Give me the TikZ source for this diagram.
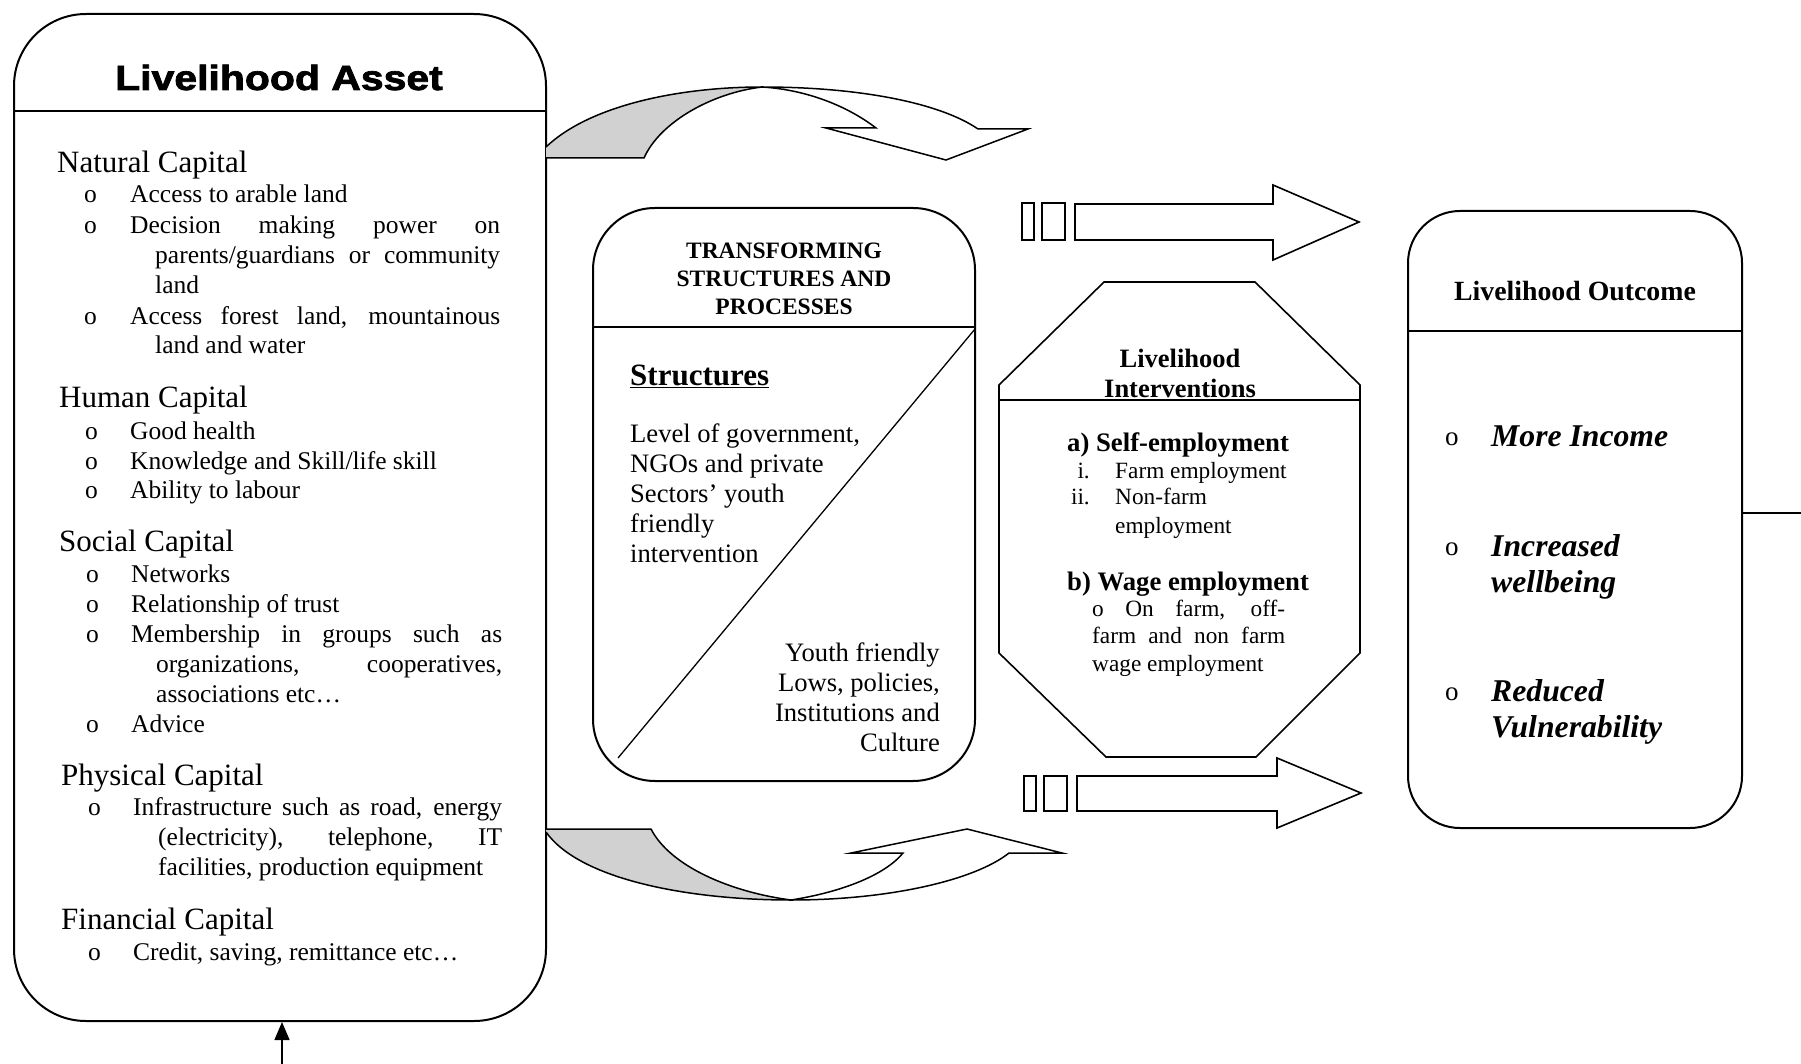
\documentclass[tikz,border=0pt]{standalone}
\usepackage{fontspec}
\setmainfont{Liberation Serif}
\newfontfamily\headsans[FakeBold=2]{Liberation Sans Bold}
\usepackage{graphicx}
\usetikzlibrary{arrows.meta}
\newcommand{\jl}[2]{\makebox[#1][s]{#2}}
\tikzset{
  rbox/.style={draw, line width=2pt, rounded corners=#1, inner sep=0pt},
  boxline/.style={line width=1.6pt},
  ribbon/.style={draw, line width=1.5pt, line join=miter},
  grayfill/.style={fill=black!18},
  bodytxt/.style={inner sep=0pt, anchor=base west, font=\fontsize{25.5}{30}\selectfont},
  caphd/.style={inner sep=0pt, anchor=base west, font=\fontsize{31}{36}\selectfont},
  tsph/.style={inner sep=0pt, anchor=base, font=\bfseries\fontsize{23.5}{28}\selectfont},
  tspt/.style={inner sep=0pt, anchor=base west, font=\fontsize{26.6}{30}\selectfont},
  tspr/.style={inner sep=0pt, anchor=base east, font=\fontsize{26.6}{30}\selectfont},
  octh/.style={inner sep=0pt, anchor=base, font=\bfseries\fontsize{26.5}{30}\selectfont},
  octb/.style={inner sep=0pt, anchor=base west, font=\bfseries\fontsize{26.7}{30}\selectfont},
  octt/.style={inner sep=0pt, anchor=base west, font=\fontsize{23.3}{27}\selectfont},
  octr/.style={inner sep=0pt, anchor=base east, font=\fontsize{23.3}{27}\selectfont},
  outh/.style={inner sep=0pt, anchor=base, font=\bfseries\fontsize{27.8}{32}\selectfont},
  outt/.style={inner sep=0pt, anchor=base west, font=\bfseries\itshape\fontsize{31.7}{36}\selectfont},
  outo/.style={inner sep=0pt, anchor=base west, font=\fontsize{27}{30}\selectfont},
}
\begin{document}
\begin{tikzpicture}[x=1pt,y=-1pt]
\useasboundingbox (0,0) rectangle (1801,1064);

% ---------- Livelihood Asset box ----------
\node[rbox=72pt, minimum width=532pt, minimum height=1007pt] (asset) at (280,517.5) {};
\draw[boxline] (asset.west |- 0,111) -- (asset.east |- 0,111);
\node[inner sep=0pt, anchor=base] (assethd) at (279,90)
  {\scalebox{1.17}[1]{\headsans\fontsize{35}{40}\selectfont Livelihood Asset}};

\node[caphd] (nat) at (57,173) {Natural Capital};
\node[bodytxt] (natb1) at (84,203) {o};
\node[bodytxt] (nat1) at (130,203) {Access to arable land};
\node[bodytxt] (natb2) at (84,234) {o};
\node[bodytxt] (nat2) at (130,234) {\jl{370pt}{Decision making power on}};
\node[bodytxt] (nat3) at (155,264) {\jl{345pt}{parents/guardians or community}};
\node[bodytxt] (nat4) at (155,294) {land};
\node[bodytxt] (natb3) at (84,325) {o};
\node[bodytxt] (nat5) at (130,325) {\jl{370pt}{Access forest land, mountainous}};
\node[bodytxt] (nat6) at (155,354) {land and water};

\node[caphd] (hum) at (59,407) {Human Capital};
\node[bodytxt] (humb1) at (85,439) {o};
\node[bodytxt] (hum1) at (130,439) {Good health};
\node[bodytxt] (humb2) at (85,469) {o};
\node[bodytxt] (hum2) at (130,469) {Knowledge and Skill/life skill};
\node[bodytxt] (humb3) at (85,498) {o};
\node[bodytxt] (hum3) at (130,498) {Ability to labour};

\node[caphd] (soc) at (59,551) {Social Capital};
\node[bodytxt] (socb1) at (86,582) {o};
\node[bodytxt] (soc1) at (131,582) {Networks};
\node[bodytxt] (socb2) at (86,612) {o};
\node[bodytxt] (soc2) at (131,612) {Relationship of trust};
\node[bodytxt] (socb3) at (86,642) {o};
\node[bodytxt] (soc3) at (131,642) {\jl{371pt}{Membership in groups such as}};
\node[bodytxt] (soc4) at (156,672) {\jl{346pt}{organizations, cooperatives,}};
\node[bodytxt] (soc5) at (156,702) {associations etc…};
\node[bodytxt] (socb4) at (86,732) {o};
\node[bodytxt] (soc6) at (131,732) {Advice};

\node[caphd] (phy) at (61,785) {Physical Capital};
\node[bodytxt] (phyb1) at (88,815) {o};
\node[bodytxt] (phy1) at (133,815) {\jl{369pt}{Infrastructure such as road, energy}};
\node[bodytxt] (phy2) at (158,845) {\jl{344pt}{(electricity), telephone, IT}};
\node[bodytxt] (phy3) at (158,875) {facilities, production equipment};

\node[caphd] (fin) at (61,929) {Financial Capital};
\node[bodytxt] (finb1) at (88,960) {o};
\node[bodytxt] (fin1) at (133,960) {Credit, saving, remittance etc…};

% feedback arrow into the asset box
\coordinate (feed) at (282,1064);
\draw[line width=1.5pt, -{Triangle[length=18pt,width=15pt]}] (feed) -- (feed |- asset.south);

% ---------- Top curved arrow ----------
\coordinate (tA) at (546,147);
\coordinate (tB) at (546,158);
\coordinate (tB2) at (644,158);
\coordinate (tP) at (762,87);
\coordinate (tC) at (978,129);
\coordinate (tD) at (876,128);
\coordinate (tE) at (826,128);
\coordinate (tT) at (946,160);
\coordinate (tF) at (1028,129);
\fill[grayfill] (tA) .. controls (590,105) and (680,87) .. (tP)
  .. controls (712,93) and (660,122) .. (tB2) -- (tB) -- cycle;
\draw[ribbon] (tA) .. controls (590,105) and (680,87) .. (tP)
  .. controls (860,87) and (940,103) .. (tC) -- (tF) -- (tT) -- (tE) -- (tD)
  .. controls (850,108) and (810,90) .. (tP)
  .. controls (712,93) and (660,122) .. (tB2) -- (tB);

% ---------- Bottom curved arrow ----------
\coordinate (bA) at (546,832);
\coordinate (bB) at (546,829);
\coordinate (bB2) at (651,829);
\coordinate (bP) at (791,900);
\coordinate (bC) at (1009,853);
\coordinate (bD) at (903,853);
\coordinate (bE) at (851,853);
\coordinate (bT) at (967,829);
\coordinate (bF) at (1062,853);
\fill[grayfill] (bA) .. controls (580,880) and (690,900) .. (bP)
  .. controls (730,892) and (670,866) .. (bB2) -- (bB) -- cycle;
\draw[ribbon] (bB) -- (bB2) .. controls (670,866) and (730,892) .. (bP)
  .. controls (842,892) and (885,875) .. (bD) -- (bE) -- (bT) -- (bF) -- (bC)
  .. controls (975,880) and (890,900) .. (bP)
  .. controls (690,900) and (580,880) .. (bA);

% ---------- TSP box ----------
\node[rbox=62pt, minimum width=382pt, minimum height=573pt] (tsp) at (784,494.5) {};
\draw[boxline] (tsp.west |- 0,327) -- (tsp.east |- 0,327);
\coordinate (diagTop) at (975,329);
\coordinate (diagBot) at (618,758);
\draw[line width=1.3pt] (diagTop) -- (diagBot);
\node[tsph] (tsp1) at (784,259) {TRANSFORMING};
\node[tsph] (tsp2) at (784,287) {STRUCTURES AND};
\node[tsph] (tsp3) at (784,315) {PROCESSES};
\node[inner sep=0pt, anchor=base west, font=\bfseries\fontsize{31}{36}\selectfont] (struct) at (630,385) {\underline{Structures}};
\node[tspt] (lv1) at (630,442) {Level of government,};
\node[tspt] (lv2) at (630,472) {NGOs and private};
\node[tspt] (lv3) at (630,502) {Sectors’ youth};
\node[tspt] (lv4) at (630,532) {friendly};
\node[tspt] (lv5) at (630,562) {intervention};
\node[tspr] (yf1) at (940,661) {Youth friendly};
\node[tspr] (yf2) at (940,691) {Lows, policies,};
\node[tspr] (yf3) at (940,721) {Institutions and};
\node[tspr] (yf4) at (940,751) {Culture};

% ---------- Block arrows ----------
\draw[boxline] (1022,203) rectangle (1034,240);
\draw[boxline] (1042,203) rectangle (1065,240);
\draw[boxline] (1075,204) -- (1273,204) -- (1273,185) -- (1359,222) -- (1273,260) -- (1273,240) -- (1075,240) -- cycle;
\draw[boxline] (1024,776) rectangle (1036,811);
\draw[boxline] (1044,776) rectangle (1067,811);
\draw[boxline] (1077,776) -- (1277,776) -- (1277,758) -- (1361,793) -- (1277,828) -- (1277,811) -- (1077,811) -- cycle;

% ---------- Octagon ----------
\coordinate (o1) at (1104,282);
\coordinate (o2) at (1255,282);
\coordinate (o3) at (1360,385);
\coordinate (o4) at (1360,653);
\coordinate (o5) at (1256,757);
\coordinate (o6) at (1106,757);
\coordinate (o7) at (999,653);
\coordinate (o8) at (999,385);
\draw[boxline] (o1) -- (o2) -- (o3) -- (o4) -- (o5) -- (o6) -- (o7) -- (o8) -- cycle;
\draw[boxline] (999,400) -- (1360,400);
\node[octh] (oh1) at (1180,367) {Livelihood};
\node[octh] (oh2) at (1180,397) {Interventions};
\node[octb] (sa) at (1067,451) {a) Self-employment};
\node[octr] (r1) at (1090,478) {i.};
\node[octt] (sa1) at (1115,478) {Farm employment};
\node[octr] (r2) at (1090,504) {ii.};
\node[octt] (sa2) at (1115,504) {Non-farm};
\node[octt] (sa3) at (1115,533) {employment};
\node[octb] (wb) at (1067,590) {b) Wage employment};
\node[octt] (wb1) at (1092,616) {\jl{193pt}{o On farm, off-}};
\node[octt] (wb2) at (1092,643) {\jl{193pt}{farm and non farm}};
\node[octt] (wb3) at (1092,671) {wage employment};

% ---------- Outcome box ----------
\node[rbox=52pt, minimum width=334pt, minimum height=617pt] (outcome) at (1575,519.5) {};
\draw[boxline] (outcome.west |- 0,331) -- (outcome.east |- 0,331);
\node[outh] (outhd) at (1575,301) {Livelihood Outcome};
\node[outo] (ob1) at (1445,445) {o};
\node[outt] (ot1) at (1491,446) {More Income};
\node[outo] (ob2) at (1445,555) {o};
\node[outt] (ot2) at (1491,556) {Increased};
\node[outt] (ot3) at (1491,592) {wellbeing};
\node[outo] (ob3) at (1445,700) {o};
\node[outt] (ot4) at (1491,701) {Reduced};
\node[outt] (ot5) at (1491,737) {Vulnerability};

\coordinate (rend) at (1801,513);
\draw[line width=1.5pt] (outcome.east |- rend) -- (rend);
\end{tikzpicture}
\end{document}
